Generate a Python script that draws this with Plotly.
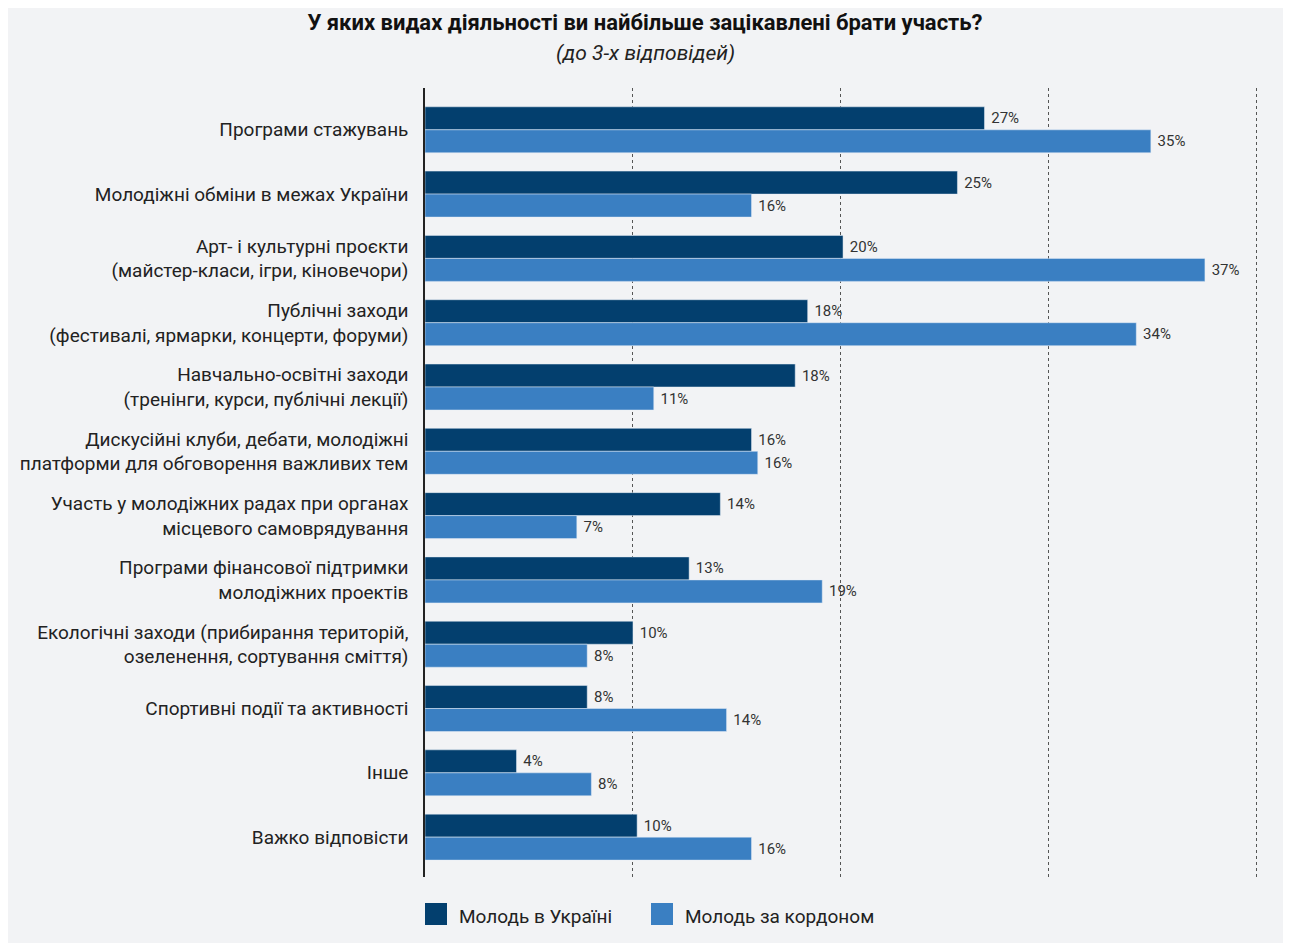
import plotly.graph_objects as go

categories = [
    "Програми стажувань",
    "Молодіжні обміни в межах України",
    "Арт- і культурні проєкти<br>(майстер-класи, ігри, кіновечори)",
    "Публічні заходи<br>(фестивалі, ярмарки, концерти, форуми)",
    "Навчально-освітні заходи<br>(тренінги, курси, публічні лекції)",
    "Дискусійні клуби, дебати, молодіжні<br>платформи для обговорення важливих тем",
    "Участь у молодіжних радах при органах<br>місцевого самоврядування",
    "Програми фінансової підтримки<br>молодіжних проектів",
    "Екологічні заходи (прибирання територій,<br>озеленення, сортування сміття)",
    "Спортивні події та активності",
    "Інше",
    "Важко відповісти",
]
ukraine = [26.9, 25.6, 20.1, 18.4, 17.8, 15.7, 14.2, 12.7, 10.0, 7.8, 4.4, 10.2]
abroad = [34.9, 15.7, 37.5, 34.2, 11.0, 16.0, 7.3, 19.1, 7.8, 14.5, 8.0, 15.7]
ukraine_labels = ["27%", "25%", "20%", "18%", "18%", "16%", "14%", "13%", "10%", "8%", "4%", "10%"]
abroad_labels = ["35%", "16%", "37%", "34%", "11%", "16%", "7%", "19%", "8%", "14%", "8%", "16%"]
series_names = ["Молодь в Україні", "Молодь за кордоном"]

FONT = "Roboto, sans-serif"
DARK = "#033f6e"
LIGHT = "#3a7fc2"

fig = go.Figure()
for vals, labels, name, color in [(ukraine, ukraine_labels, series_names[0], DARK),
                                  (abroad, abroad_labels, series_names[1], LIGHT)]:
    fig.add_trace(go.Bar(y=categories, x=vals, orientation="h", name=name,
                         marker_color=color, text=labels, texttemplate=" %{text}",
                         textposition="outside", textfont=dict(size=15, color="#333333"),
                         cliponaxis=False, showlegend=False))

# plot area is 834 px wide, 789 px tall (paper coords)
PW, PH = 834, 789

fig.update_layout(
    width=1283, height=935,
    barmode="group", bargap=0.285, bargroupgap=0,
    paper_bgcolor="#f2f3f5", plot_bgcolor="#f2f3f5",
    font=dict(family=FONT, size=19, color="#222222"),
    margin=dict(l=417, r=32, t=80, b=66, autoexpand=False),
    title=dict(text="<b>У яких видах діяльності ви найбільше зацікавлені брати участь?</b>",
               x=(645 - 425 + 417) / 1283, xanchor="center", y=1 - 14 / 935, yanchor="middle",
               font=dict(family=FONT, size=22, color="#111111")),
    uniformtext=dict(minsize=10, mode="show"),
)
fig.add_annotation(text="<i>(до 3-х відповідей)</i>", xref="paper", yref="paper",
                   x=(645 - 425) / PW, y=1 + 35 / PH, xanchor="center", yanchor="middle",
                   showarrow=False, font=dict(size=21, color="#222222"))

# legend drawn by hand so the squares match the original size
for i, (name, color) in enumerate(zip(series_names, [DARK, LIGHT])):
    x0 = (0 if i == 0 else 226) / PW
    fig.add_shape(type="rect", xref="paper", yref="paper",
                  x0=x0, x1=x0 + 22 / PW, y0=-(903 - 877) / PH, y1=-(925 - 877) / PH,
                  fillcolor=color, line_width=0)
    fig.add_annotation(text=name, xref="paper", yref="paper", x=x0 + 32 / PW, y=-(917 - 877) / PH,
                       xanchor="left", yanchor="middle", showarrow=False,
                       font=dict(size=19, color="#222222"))

fig.update_xaxes(range=[0, 40.1], dtick=10, showticklabels=False, zeroline=False,
                 showgrid=True, gridcolor="#555555", griddash="dot", gridwidth=1)
fig.update_yaxes(range=[11.62, -0.65], showline=True, linecolor="#222222", linewidth=1.5,
                 ticks="", ticklabelstandoff=11, showgrid=False)

fig.write_html("out.html")
